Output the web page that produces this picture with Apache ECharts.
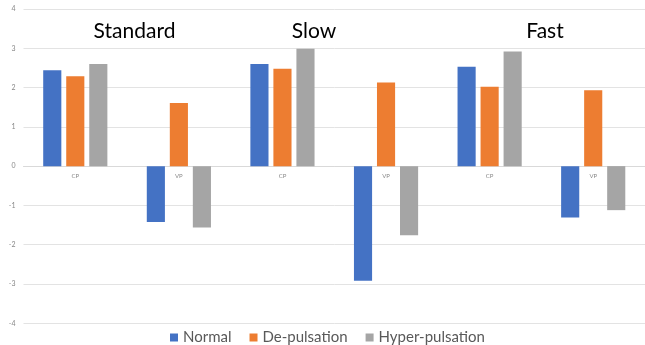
<!DOCTYPE html>
<html>
<head>
<meta charset="utf-8">
<script src="https://cdn.jsdelivr.net/npm/echarts@6/dist/echarts.min.js"></script>
<style>
html,body{margin:0;padding:0;background:#fff;}
#c{width:645px;height:345px;}
</style>
</head>
<body>
<div id="c"></div>
<script>
var categories = ['CP', 'VP', 'CP', 'VP', 'CP', 'VP'];
var seriesNames = ['Normal', 'De-pulsation', 'Hyper-pulsation'];
var normal = [2.44, -1.42, 2.60, -2.92, 2.53, -1.31];
var dePulsation = [2.29, 1.61, 2.48, 2.13, 2.02, 1.93];
var hyperPulsation = [2.60, -1.56, 2.99, -1.76, 2.92, -1.12];
var conditionLabels = ['Standard', 'Slow', 'Fast'];
var chartTitle = 'waves in the three different conditions';

var colors = ['#4472C4', '#ED7D31', '#A5A5A5'];
var labelX = [134.5, 314, 545];

var chart = echarts.init(document.getElementById('c'));
var graphics = [{
  type: 'text', x: 322, y: -5.5,
  style: { text: chartTitle, font: '17.5px Lato', fill: '#595959', textAlign: 'center', textVerticalAlign: 'middle' }
}];
conditionLabels.forEach(function (t, i) {
  graphics.push({
    type: 'text', x: labelX[i], y: 31,
    style: { text: t, font: '21px Lato', fill: '#000', textAlign: 'center', textVerticalAlign: 'middle' }
  });
});

var dataSets = [normal, dePulsation, hyperPulsation];
chart.setOption({
  animation: false,
  color: colors,
  textStyle: { fontFamily: 'Lato' },
  grid: { left: 23.5, right: -6, top: 9, bottom: 21.7, containLabel: false },
  legend: {
    data: seriesNames,
    left: 170, top: 330,
    padding: 0,
    icon: 'rect', itemWidth: 8, itemHeight: 8, itemGap: 18,
    textStyle: { fontSize: 15, color: '#595959', fontFamily: 'Lato', padding: [0, 0, 0, 0] }
  },
  xAxis: {
    type: 'category',
    data: categories,
    position: 'bottom',
    offset: -157,
    axisLine: { onZero: false, lineStyle: { color: '#d9d9d9' } },
    axisTick: { show: false },
    axisLabel: { fontSize: 6, color: '#888', margin: 7 }
  },
  yAxis: {
    type: 'value', min: -4, max: 4, interval: 1,
    axisLine: { show: false },
    axisTick: { show: false },
    axisLabel: { fontSize: 7, color: '#888', margin: 8 },
    splitLine: { lineStyle: { color: '#e3e3e3' } }
  },
  series: seriesNames.map(function (n, i) {
    return { name: n, type: 'bar', data: dataSets[i], barWidth: '17.5%', barGap: '27%' };
  }),
  graphic: graphics
});
</script>
</body>
</html>
